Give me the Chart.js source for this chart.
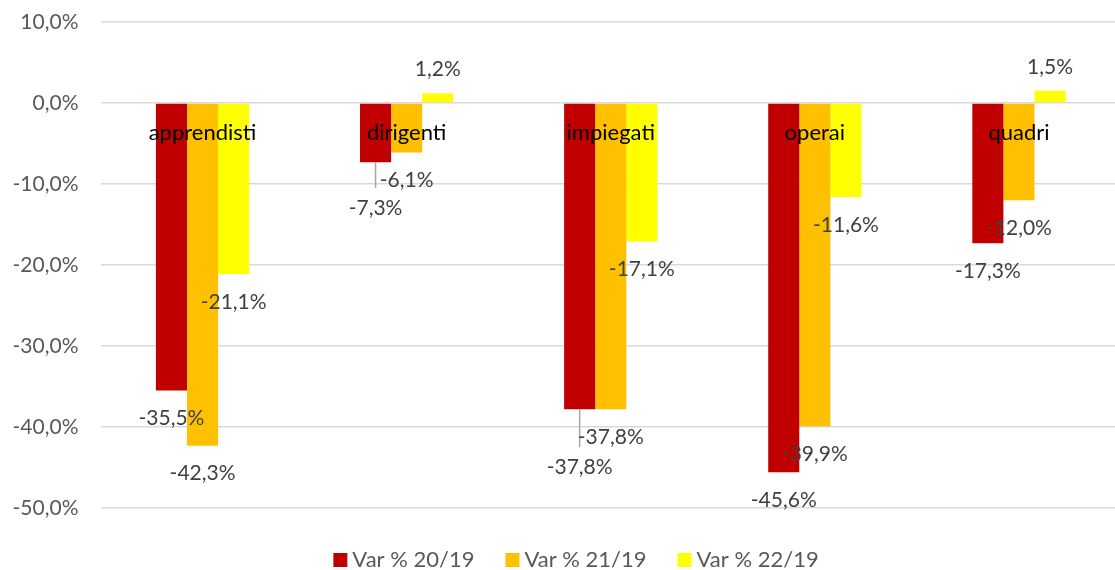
<!DOCTYPE html>
<html><head><meta charset="utf-8">
<script src="https://cdn.jsdelivr.net/npm/chart.js@4/dist/chart.umd.min.js"></script>
<style>
html,body{margin:0;padding:0;background:#fff;overflow:hidden;width:1115px;height:570px}
#wrap{width:1121px;height:570px}
</style></head>
<body><div id="wrap"><canvas id="c" width="1121" height="570"></canvas></div>
<script>
const categories = ['apprendisti','dirigenti','impiegati','operai','quadri'];
const seriesNames = ['Var % 20/19','Var % 21/19','Var % 22/19'];
const var2019 = [-35.5,-7.3,-37.8,-45.6,-17.3];
const var2119 = [-42.3,-6.1,-37.8,-39.9,-12.0];
const var2219 = [-21.1,1.2,-17.1,-11.6,1.5];
const yTicks = [10,0,-10,-20,-30,-40,-50];

const colors = ['#C00000','#FFC000','#FFFF00'];
const FONT = 'Lato';
// manual label pulls (px downward) for labels moved away with a leader line: "dataset-index"
const labelNudge = {'0-1':18,'0-2':30};

const fmt = v => v.toFixed(1).replace('.', ',') + '%';

const catLabelPlugin = {
  id:'catLabels',
  afterDatasetsDraw(chart){
    const {ctx, scales:{x,y}} = chart;
    ctx.save();
    ctx.font = `22px ${FONT}`;
    ctx.fillStyle = '#000';
    ctx.textAlign = 'center';
    ctx.textBaseline = 'alphabetic';
    const y0 = y.getPixelForValue(0);
    categories.forEach((c,i)=>{
      ctx.fillText(c, x.getPixelForValue(i), y0 + 37);
    });
    ctx.restore();
  }
};

const dataLabelPlugin = {
  id:'dataLabels',
  afterDatasetsDraw(chart){
    const {ctx} = chart;
    ctx.save();
    ctx.font = `21px ${FONT}`;
    ctx.textAlign = 'center';
    ctx.textBaseline = 'middle';
    chart.data.datasets.forEach((ds,di)=>{
      const meta = chart.getDatasetMeta(di);
      meta.data.forEach((bar,i)=>{
        const v = ds.data[i];
        const nudge = labelNudge[di+'-'+i] || 0;
        let ly = v < 0 ? bar.y + 28 + nudge : bar.y - 24;
        if (nudge){
          ctx.strokeStyle = '#a6a6a6';
          ctx.lineWidth = 1.5;
          ctx.beginPath();
          ctx.moveTo(bar.x, bar.y);
          ctx.lineTo(bar.x, ly - 20);
          ctx.stroke();
        }
        ctx.fillStyle = '#404040';
        ctx.fillText(fmt(v), bar.x, ly);
      });
    });
    ctx.restore();
  }
};

const legendPlugin = {
  id:'customLegend',
  afterDraw(chart){
    const {ctx} = chart;
    ctx.save();
    ctx.font = `22px ${FONT}`;
    const box = 14, gap = 5, itemGap = 31, centerX = 576, cy = 560;
    const widths = seriesNames.map(n => box + gap + ctx.measureText(n).width);
    const total = widths.reduce((a,b)=>a+b,0) + itemGap*(seriesNames.length-1);
    let x = centerX - total/2;
    ctx.textBaseline = 'middle';
    ctx.textAlign = 'left';
    seriesNames.forEach((n,i)=>{
      ctx.fillStyle = colors[i];
      ctx.fillRect(x, cy - box/2, box, box);
      ctx.fillStyle = '#595959';
      ctx.fillText(n, x + box + gap, cy);
      x += widths[i] + itemGap;
    });
    ctx.restore();
  }
};

const seriesValues = [var2019, var2119, var2219];

new Chart(document.getElementById('c'), {
  type:'bar',
  data:{
    labels: categories,
    datasets: seriesNames.map((n,i)=>({
      label:n, data: seriesValues[i], backgroundColor: colors[i],
      borderWidth:0, categoryPercentage:0.457, barPercentage:1
    }))
  },
  options:{
    responsive:false,
    animation:false,
    devicePixelRatio:1,
    layout:{padding:{top:22,bottom:62,left:0,right:0}},
    plugins:{legend:{display:false}, tooltip:{enabled:false}},
    scales:{
      x:{display:false, grid:{display:false}},
      y:{
        min:-50, max:10,
        afterBuildTicks(s){ s.ticks = yTicks.map(v=>({value:v})); },
        afterFit(s){ s.width = 100.5; s.paddingTop = 0; s.paddingBottom = 0; },
        border:{display:false},
        grid:{color:'#d9d9d9', lineWidth:1.5, drawTicks:false},
        ticks:{
          padding:22,
          color:'#595959',
          font:{family:FONT, size:21},
          callback:v=>fmt(v)
        }
      }
    }
  },
  plugins:[catLabelPlugin, dataLabelPlugin, legendPlugin]
});
</script>
</body></html>
